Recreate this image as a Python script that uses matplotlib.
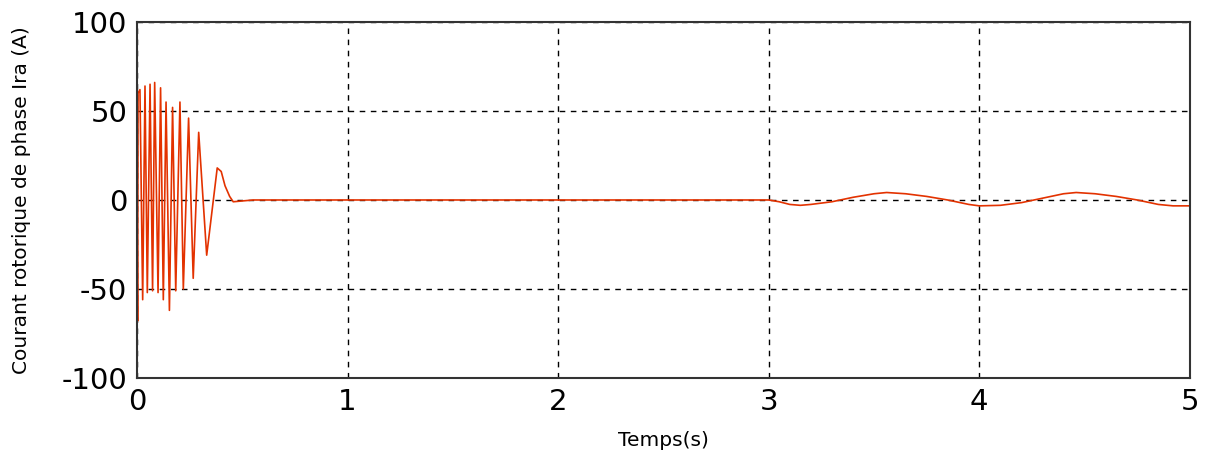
import matplotlib
matplotlib.use("Agg")
import matplotlib.pyplot as plt

# Start-up transient (extrema)
t_start = [0.0, 0.003, 0.005, 0.014, 0.027, 0.038, 0.049, 0.062, 0.074, 0.084, 0.100,
           0.112, 0.125, 0.138, 0.154, 0.169, 0.184, 0.204, 0.220, 0.245, 0.267,
           0.293, 0.331, 0.381, 0.400, 0.418, 0.440, 0.457, 0.552]
i_start = [0.0, -68, 60, 62, -56, 64, -52, 65, -51, 66, -52,
           63, -56, 55, -62, 52, -51, 55, -50, 46, -44,
           38, -31, 18, 16, 8, 2, -1, 0]

# Steady period (zero) then load oscillation after t = 3 s
t_end = [3.0, 3.05, 3.1, 3.15, 3.2, 3.3, 3.4, 3.5, 3.56, 3.65, 3.75, 3.85, 3.95,
         4.0, 4.1, 4.2, 4.3, 4.4, 4.46, 4.55, 4.65, 4.75, 4.85, 4.92, 5.0]
i_end = [0.0, -1.0, -2.5, -3.0, -2.5, -1.0, 1.5, 3.5, 4.2, 3.5, 2.0, 0.0, -2.5,
         -3.3, -3.0, -1.5, 1.0, 3.5, 4.2, 3.5, 2.0, 0.0, -2.5, -3.3, -3.3]

t = t_start + t_end
ira = i_start + i_end

xticks = [0, 1, 2, 3, 4, 5]
yticks = [-100, -50, 0, 50, 100]

plt.rcParams['font.family'] = ['DejaVu Sans']
plt.rcParams['axes.unicode_minus'] = False

fig = plt.figure(figsize=(12.08, 4.57), dpi=100)
ax = fig.add_axes([0.1134, 0.1729, 0.8716, 0.779])
ax.plot(t, ira, color='#E33200', linewidth=1.2)
ax.set_xlim(0, 5)
ax.set_ylim(-100, 100)
ax.set_xticks(xticks)
ax.set_yticks(yticks)
ax.tick_params(labelsize=21, direction='in', length=0, pad=7)
ax.grid(True, color='black', linestyle=(0, (4, 4)), linewidth=1.0)
for s in ax.spines.values():
    s.set_linewidth(1.5)
    s.set_color('#333333')
ax.set_xlabel('Temps(s)', fontsize=14.5, labelpad=11)
ax.set_ylabel('Courant rotorique de phase Ira (A)', fontsize=14.5, labelpad=22)

fig.savefig('out.png', dpi=100)
